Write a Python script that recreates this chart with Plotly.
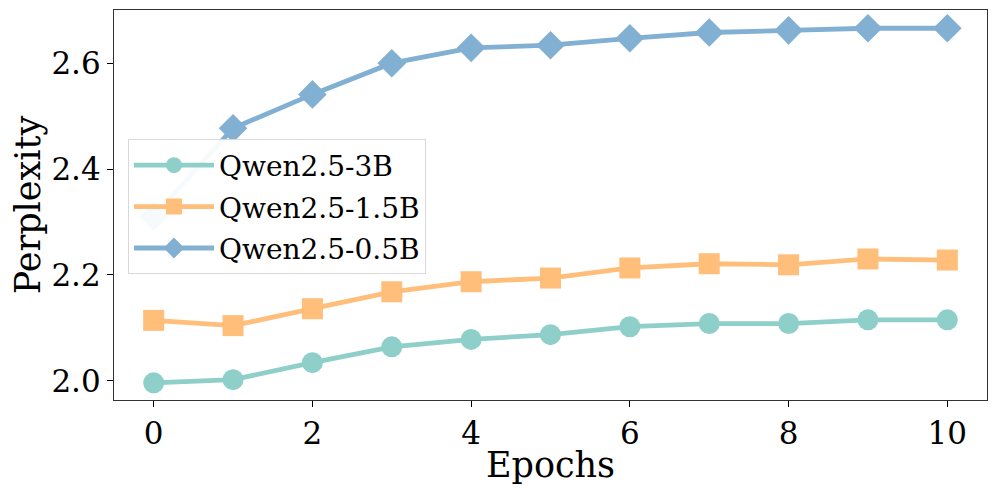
import plotly.graph_objects as go

epochs = [0, 1, 2, 3, 4, 5, 6, 7, 8, 9, 10]
qwen_3b = [1.996, 2.002, 2.034, 2.064, 2.078, 2.087, 2.102, 2.108, 2.108, 2.115, 2.115]
qwen_1_5b = [2.114, 2.104, 2.136, 2.168, 2.187, 2.194, 2.213, 2.221, 2.219, 2.230, 2.228]
qwen_0_5b = [2.31, 2.477, 2.541, 2.600, 2.629, 2.634, 2.647, 2.658, 2.662, 2.666, 2.666]

series = [
    ("Qwen2.5-3B", qwen_3b, "#8ECFC9", "circle", 21),
    ("Qwen2.5-1.5B", qwen_1_5b, "#FFBE7A", "square", 21),
    ("Qwen2.5-0.5B", qwen_0_5b, "#82B0D2", "diamond", 22),
]

fig = go.Figure()
for name, vals, color, sym, sz in series:
    fig.add_trace(go.Scatter(
        x=epochs, y=vals, name=name, mode="lines+markers", legendgroup=name,
        line=dict(color=color, width=4.8),
        marker=dict(symbol=sym, size=sz, color=color, line=dict(width=0)),
    ))

font_family = "DejaVu Serif"
# page body has an 8px margin; figure size/margins compensate for it
fig.update_layout(
    width=989, height=486,
    margin=dict(l=106, r=10, t=2, b=94),
    paper_bgcolor="white", plot_bgcolor="white",
    font=dict(family=font_family, color="black"),
    showlegend=True,
    legend=dict(
        x=0.016, y=0.668, xanchor="left", yanchor="top",
        bgcolor="rgba(255,255,255,0.93)", bordercolor="#D9D9D9", borderwidth=1,
        font=dict(size=28, family=font_family), tracegroupgap=2,
        itemwidth=80,
    ),
    xaxis=dict(
        range=[-0.5, 10.5], tickvals=[0, 2, 4, 6, 8, 10],
        ticks="outside", ticklen=6, tickcolor="black", tickwidth=1,
        tickfont=dict(size=31), showgrid=False, zeroline=False,
        showline=True, linecolor="#333333", linewidth=1.2, mirror=True,
        title=dict(text="Epochs", font=dict(size=35), standoff=2),
    ),
    yaxis=dict(
        range=[1.9635, 2.7005], tickvals=[2.0, 2.2, 2.4, 2.6],
        tickformat=".1f",
        ticks="outside", ticklen=6, tickcolor="black", tickwidth=1,
        tickfont=dict(size=31), showgrid=False, zeroline=False,
        showline=True, linecolor="#333333", linewidth=1.2, mirror=True,
        title=dict(text="Perplexity", font=dict(size=35), standoff=10),
    ),
)

fig.write_html("out.html")
